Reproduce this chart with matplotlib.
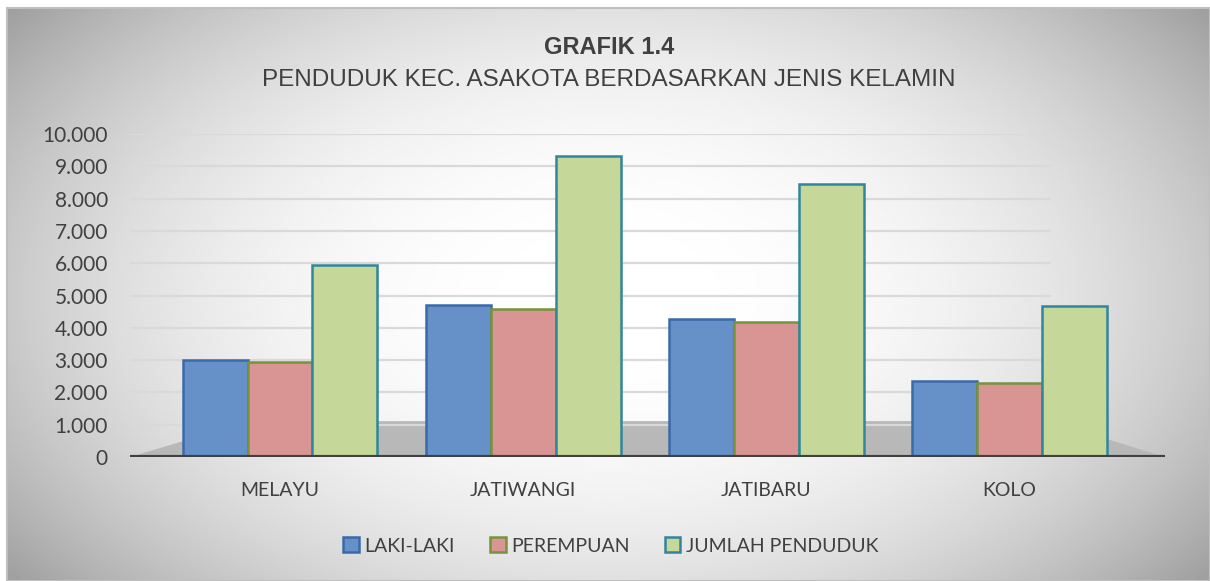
import numpy as np
import matplotlib
matplotlib.use("Agg")
from matplotlib import pyplot as plt
from matplotlib.patches import Patch, Polygon, Rectangle
from matplotlib.ticker import FuncFormatter

# data
wilayah = ["MELAYU", "JATIWANGI", "JATIBARU", "KOLO"]
laki_laki = [2990, 4710, 4270, 2340]
perempuan = [2950, 4580, 4170, 2300]
jumlah = [5950, 9320, 8460, 4660]
series_names = ["LAKI-LAKI", "PEREMPUAN", "JUMLAH PENDUDUK"]
y_ticks = [0, 1000, 2000, 3000, 4000, 5000, 6000, 7000, 8000, 9000, 10000]

faces = ["#6690C8", "#D99594", "#C5D89A"]
edges = ["#3A6AA8", "#77933C", "#31859C"]
txt = "#404040"

W, H = 1210, 581
fig = plt.figure(figsize=(W / 100, H / 100), dpi=100)

# background: radial grey gradient inside a thin frame
bg = fig.add_axes([7 / W, 0, 1 - 7 / W, 1 - 8 / H])
gx, gy = np.meshgrid(np.linspace(-1, 1, 400), np.linspace(-1, 1, 200))
r = np.clip(np.sqrt((gx * 0.95) ** 2 + (gy * 0.75) ** 2), 0, 1.2)
bg.imshow(1 - 0.24 * r ** 2.4, cmap="gray", vmin=0, vmax=1, aspect="auto",
          extent=[0, 1, 0, 1])
bg.set_axis_off()
fig.add_artist(Rectangle((7 / W, 0), 1 - 7 / W, 1 - 8 / H, transform=fig.transFigure,
                         fill=False, edgecolor="#BFBFBF", lw=1.5))

ax = fig.add_axes([130 / W, 1 - 457 / H, (1165 - 130) / W, (457 - 134) / H])
ax.patch.set_alpha(0)
ax.set_xlim(-0.617, 3.64)
ax.set_ylim(0, 10000)

# floor of the 3d look
ax.add_patch(Polygon([(0, 0), (1, 0), (0.888, 0.111), (0.116, 0.111)],
                     closed=True, transform=ax.transAxes, facecolor="#B8B8B8",
                     edgecolor="none", zorder=0))

ax.hlines(y_ticks[1:], -0.617, 3.17, color="#D9D9D9", lw=1.6, zorder=0.5)

x = np.arange(len(wilayah))
bw = 0.267
for i, vals in enumerate([laki_laki, perempuan, jumlah]):
    ax.bar(x + (i - 1) * bw, vals, bw, color=faces[i], edgecolor=edges[i],
           linewidth=1.8, zorder=2)

ax.axhline(0, color="#404040", lw=3, zorder=3)
for s in ax.spines.values():
    s.set_visible(False)

ax.set_yticks(y_ticks)
ax.yaxis.set_major_formatter(FuncFormatter(lambda v, p: f"{int(v):,}".replace(",", ".")))
ax.set_xticks(x)
ax.set_xticklabels(wilayah)
ax.tick_params(axis="y", length=0, pad=16, labelsize=15, labelcolor=txt)
ax.tick_params(axis="x", length=0, pad=18, labelsize=14, labelcolor=txt)
for lab in ax.get_yticklabels() + ax.get_xticklabels():
    lab.set_fontfamily(["Lato", "DejaVu Sans"])

narrow = ["Liberation Sans", "DejaVu Sans"]
fig.text(0.503, 1 - 47 / H, "GRAFIK 1.4", ha="center", va="center", fontsize=17,
         fontweight="bold", color=txt, family=narrow)
fig.text(0.503, 1 - 80 / H, "PENDUDUK KEC. ASAKOTA BERDASARKAN JENIS KELAMIN",
         ha="center", va="center", fontsize=17.5, color=txt, family=narrow)

handles = [Patch(facecolor=faces[i], edgecolor=edges[i], lw=1.8) for i in range(3)]
leg = fig.legend(handles, series_names, loc="center", bbox_to_anchor=(0.505, 1 - 546 / H),
                 ncol=3, frameon=False, handlelength=0.8, handleheight=0.8,
                 handletextpad=0.3, columnspacing=1.8,
                 prop={"family": ["Lato", "DejaVu Sans"], "size": 14})
for t in leg.get_texts():
    t.set_color(txt)

fig.savefig("out.png", dpi=100)
